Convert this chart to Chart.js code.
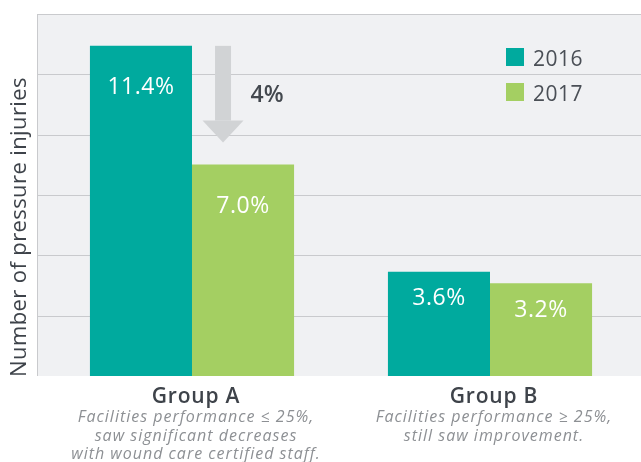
<!DOCTYPE html>
<html>
<head>
<meta charset="utf-8">
<script src="https://cdn.jsdelivr.net/npm/chart.js@4/dist/chart.umd.min.js"></script>
<style>
	body { margin:0; background:#fff; }
	#wrap { width:641px; height:462px; }
</style>
</head>
<body>
<div id="wrap"><canvas id="c" width="641" height="462"></canvas></div>
<script>
const groups = ['Group A', 'Group B']
const notes = [
	['Facilities performance ≤ 25%,', 'saw significant decreases', 'with wound care certified staff.'],
	['Facilities performance ≥ 25%,', 'still saw improvement.']
]
const years = ['2016', '2017']
const v2016 = [11.4, 3.6]
const v2017 = [7.3, 3.2]
const labels2016 = ['11.4%', '3.6%']
const labels2017 = ['7.0%', '3.2%']
const dropLabel = '4%'
const yMax = 12.5
const yStep = yMax / 6

const FONT = '"Open Sans", sans-serif'
const TEAL = '#00aa9e'
const GREEN = '#a4cf62'

const decor = {
	id:'decor',
	beforeDatasetsDraw: a => {
		const ctx = a.ctx, y = a.scales.y, area = a.chartArea
		ctx.save()
		ctx.fillStyle = '#f0f1f3'
		ctx.fillRect(37, area.top, a.width - 37, area.bottom - area.top)
		ctx.strokeStyle = '#c9cacd'
		ctx.lineWidth = 1
		y.ticks.forEach(t => {
			if (t.value <= 0) return
			const py = Math.round(y.getPixelForValue(t.value)) + 0.5
			ctx.beginPath(); ctx.moveTo(37, py); ctx.lineTo(a.width, py); ctx.stroke()
		})
		ctx.beginPath(); ctx.moveTo(37.5, area.bottom); ctx.lineTo(37.5, area.top); ctx.stroke()
		ctx.restore()
	},
	afterDraw: a => {
		const ctx = a.ctx, area = a.chartArea, x = a.scales.x
		ctx.save()

		//bar labels
		ctx.fillStyle = '#fff'
		ctx.font = `23px ${FONT}`
		ctx.letterSpacing = '0.5px'
		ctx.textAlign = 'center'
		ctx.textBaseline = 'middle'
		const off = [42, 27]
		;[labels2016, labels2017].forEach((lb, d) => {
			a.getDatasetMeta(d).data.forEach((b, i) => ctx.fillText(lb[i], b.x, b.y + off[i]))
		})

		//arrow
		const top = a.getDatasetMeta(0).data[0], low = a.getDatasetMeta(1).data[0]
		const cx = low.x - 20, tip = low.y - 22
		ctx.fillStyle = '#d1d3d5'
		ctx.fillRect(cx - 8, top.y, 16, tip - 22 - top.y)
		ctx.beginPath()
		ctx.moveTo(cx - 20.5, tip - 22); ctx.lineTo(cx + 20.5, tip - 22); ctx.lineTo(cx, tip)
		ctx.closePath(); ctx.fill()
		ctx.fillStyle = '#43484e'
		ctx.font = `600 23px ${FONT}`
		ctx.letterSpacing = '0px'
		ctx.textBaseline = 'alphabetic'
		ctx.fillText(dropLabel, cx + 44, 102)

		//legend
		ctx.textAlign = 'left'
		ctx.font = `21px ${FONT}`
		ctx.letterSpacing = '0.5px'
		a.data.datasets.forEach((d, i) => {
			const ly = 48 + i * 35
			ctx.fillStyle = d.backgroundColor
			ctx.fillRect(506, ly, 18, 18)
			ctx.fillStyle = '#4a4f56'
			ctx.fillText(d.label, 533, ly + 18)
		})

		//category labels
		ctx.textAlign = 'center'
		groups.forEach((g, i) => {
			const px = x.getPixelForValue(i) + 4
			ctx.fillStyle = '#3e434a'
			ctx.font = `600 21px ${FONT}`
			ctx.letterSpacing = '0.8px'
			ctx.fillText(g, px, 403)
			ctx.fillStyle = '#8d9094'
			ctx.font = `italic 16px ${FONT}`
			ctx.letterSpacing = '1px'
			notes[i].forEach((t, j) => ctx.fillText(t, px, 422 + j * 18.7))
		})

		//y title
		ctx.translate(26, 227)
		ctx.rotate(-Math.PI / 2)
		ctx.fillStyle = '#3e434a'
		ctx.font = `22px ${FONT}`
		ctx.letterSpacing = '0.4px'
		ctx.fillText('Number of pressure injuries', 0, 0)
		ctx.restore()
	}
}

new Chart(document.getElementById('c'), {
	type:'bar',
	plugins:[decor],
	data:{
		labels:groups,
		datasets:[
			{ label:years[0], data:v2016, backgroundColor:TEAL },
			{ label:years[1], data:v2017, backgroundColor:GREEN },
		]
	},
	options:{
		responsive:false,
		animation:false,
		layout:{ padding:{ left:43, right:2, top:14, bottom:86 } },
		datasets:{ bar:{ categoryPercentage:0.685, barPercentage:1 } },
		plugins:{ legend:{ display:false }, tooltip:{ enabled:false } },
		scales:{
			x:{ display:false },
			y:{ display:false, min:0, max:yMax, ticks:{ stepSize:yStep } }
		}
	}
})
</script>
</body>
</html>
